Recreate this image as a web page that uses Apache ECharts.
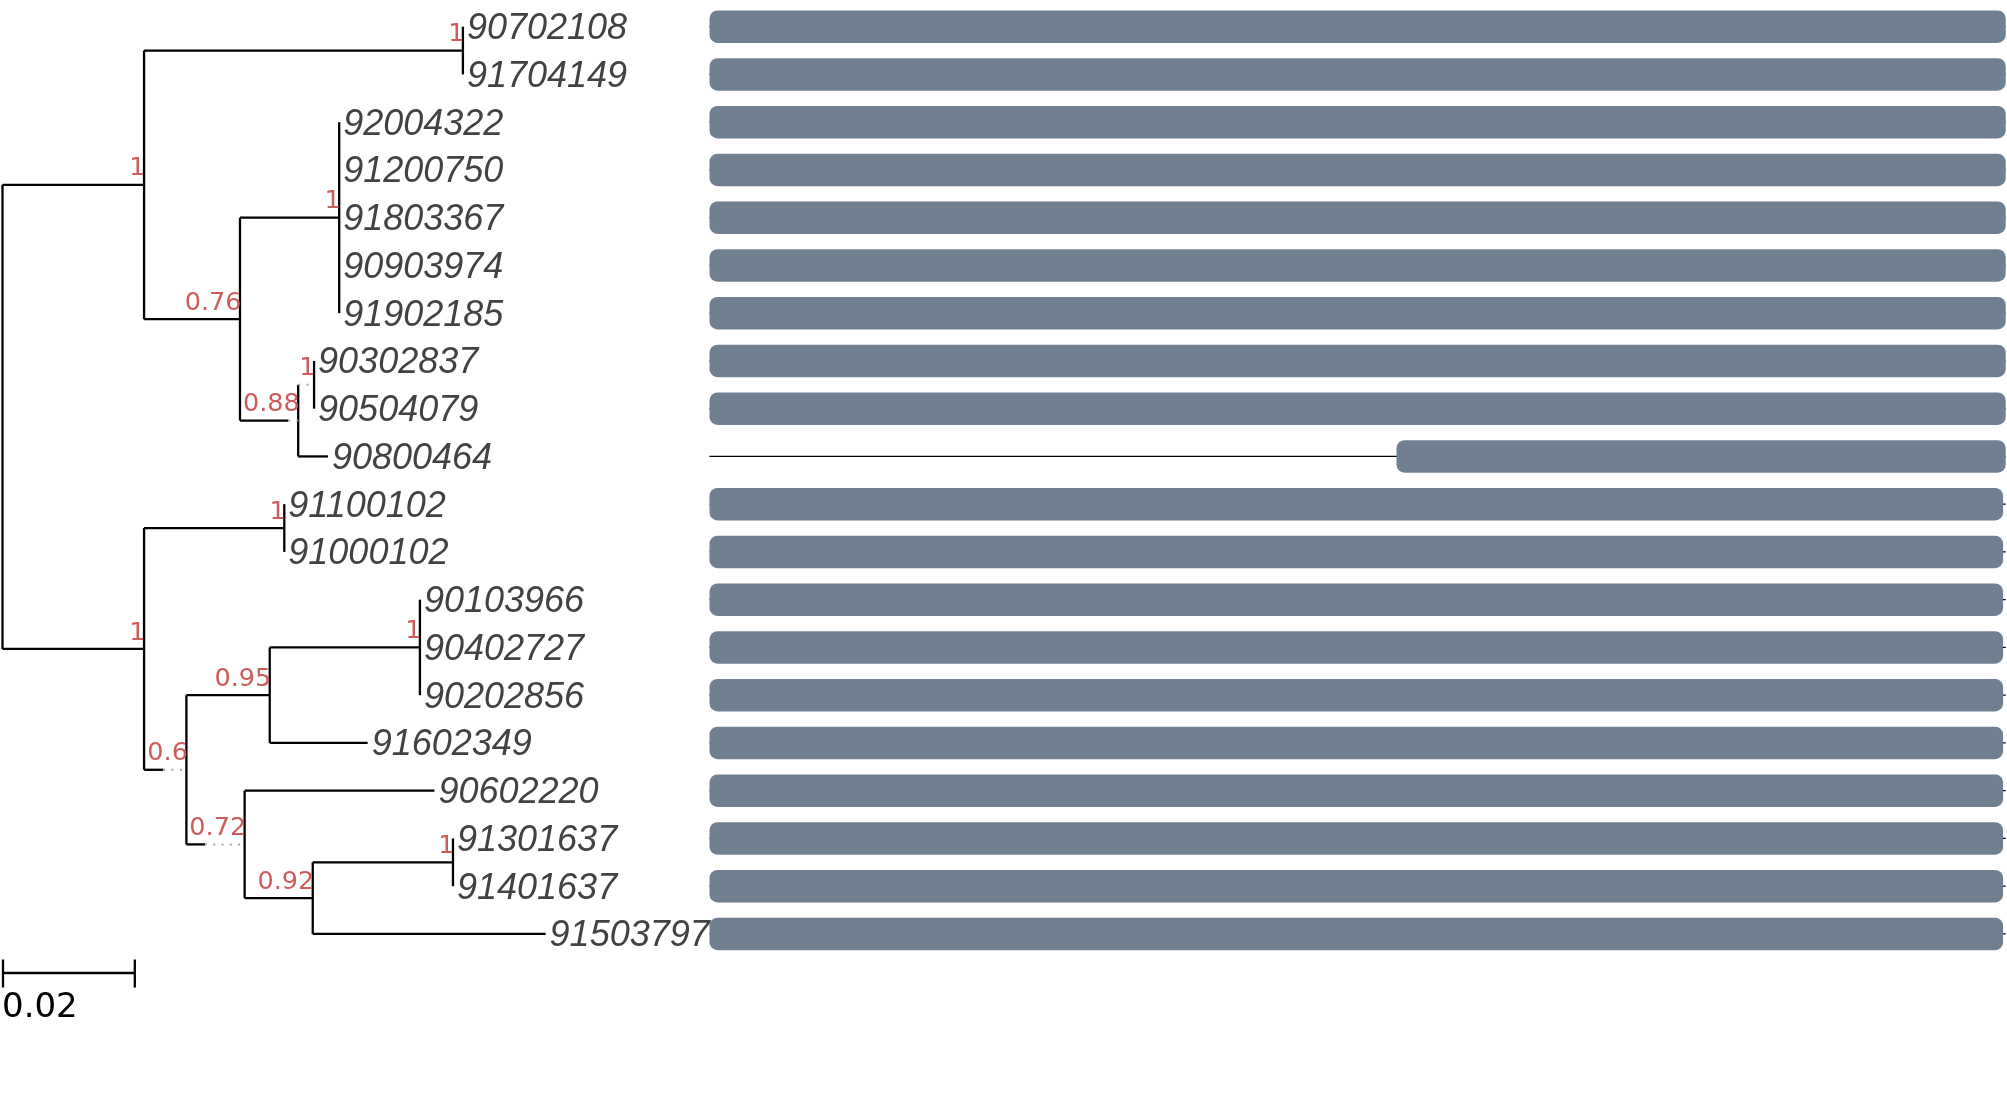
<!DOCTYPE html>
<html>
<head>
<meta charset="utf-8">
<script src="https://cdn.jsdelivr.net/npm/echarts@6/dist/echarts.min.js"></script>
<style>
html,body{margin:0;padding:0;background:#ffffff;}
#chart{width:2007px;height:1093px;}
</style>
</head>
<body>
<div id="chart"></div>
<script>
// ---------------- data ----------------
const tipNames = ['90702108','91704149','92004322','91200750','91803367','90903974','91902185','90302837','90504079','90800464',
                  '91100102','91000102','90103966','90402727','90202856','91602349','90602220','91301637','91401637','91503797'];
const tipParents = ['A1','A1','A2a','A2a','A2a','A2a','A2a','A2b1','A2b1','A2b',
                    'B1','B1','B2a1','B2a1','B2a1','B2a','B2b','B2b2a','B2b2a','B2b2'];
const tipBranchLengths = [0,0,0,0,0,0,0,0,0,0.0045,
                          0,0,0,0,0,0.0148,0.0287,0,0,0.0352];

const nodeNames         = ['root','A','A1','A2','A2a','A2b','A2b1','B','B1','B2','B2a','B2a1','B2b','B2b2','B2b2a'];
const nodeParents       = [null,'root','A','A','A2','A2','A2b','root','B','B','B2','B2a','B2','B2b','B2b2'];
const nodeBranchLengths = [0,0.0214,0.0482,0.0145,0.0150,0.0088,0.0024,0.0214,0.0212,0.0064,0.0126,0.0227,0.0088,0.0103,0.0212];
const nodeSupport       = ['','1','1','0.76','1','0.88','1','1','1','0.6','0.95','1','0.72','0.92','1'];

// branches drawn partly dotted: node and depth where the dotted part begins
const dottedNodes = ['A2b','A2b1','B2','B2b'];
const dottedFrom  = [0.0432,0.0447,0.0243,0.0306];

const scaleBarLength = 0.02;
const scaleBarLabel = '0.02';

// alignment coverage per tip (positions out of seqLength)
const seqLength = 1000;
const barStarts = [0,0,0,0,0,0,0,0,0,530, 0,0,0,0,0,0,0,0,0,0];
const barEnds   = [1000,1000,1000,1000,1000,1000,1000,1000,1000,1000, 998,998,998,998,998,998,998,998,998,998];

// ---------------- tree layout (depth / row) ----------------
const depth = {}, ypos = {}, children = {};
nodeNames.forEach((n, i) => {
  const p = nodeParents[i];
  depth[n] = p === null ? 0 : depth[p] + nodeBranchLengths[i];
  children[n] = [];
});
nodeNames.forEach((n, i) => { if (nodeParents[i]) children[nodeParents[i]].push({ node: n }); });
tipNames.forEach((t, i) => children[tipParents[i]].push({ tip: i }));
const tipDepth = tipNames.map((t, i) => depth[tipParents[i]] + tipBranchLengths[i]);
const childY = c => (c.tip !== undefined ? c.tip : ypos[c.node]);
for (let i = nodeNames.length - 1; i >= 0; i--) {
  const n = nodeNames[i];
  const ys = children[n].map(childY);
  ypos[n] = ys.reduce((a, b) => a + b, 0) / ys.length;
}

// segments: [x1, y1, x2, y2, dotted]
const segments = [];
function addHoriz(x0, x1, y, name) {
  if (x1 - x0 <= 0) return;
  const di = dottedNodes.indexOf(name);
  if (di >= 0) {
    const f = Math.max(x0, dottedFrom[di]);
    if (f > x0) segments.push([x0, y, f, y, 0]);
    segments.push([f, y, x1, y, 1]);
  } else {
    segments.push([x0, y, x1, y, 0]);
  }
}
nodeNames.forEach((n, i) => {
  const ys = children[n].map(childY);
  segments.push([depth[n], Math.min(...ys), depth[n], Math.max(...ys), 0]);
  if (nodeParents[i]) addHoriz(depth[nodeParents[i]], depth[n], ypos[n], n);
});
tipNames.forEach((t, i) => addHoriz(depth[tipParents[i]], tipDepth[i], i, t));

const tipLabelData = tipNames.map((t, i) => [tipDepth[i], i, t]);
const supportData = [];
nodeNames.forEach((n, i) => { if (nodeSupport[i] !== '') supportData.push([depth[n], ypos[n], nodeSupport[i]]); });
const backboneData = tipNames.map((t, i) => [0, seqLength, i]);
const barData = tipNames.map((t, i) => [barStarts[i], barEnds[i], i]);

// ---------------- chart ----------------
const chart = echarts.init(document.getElementById('chart'), null, { renderer: 'canvas' });
const ROWS = tipNames.length;
const yAxisBase = { type: 'value', min: -0.5, max: ROWS - 0.5, inverse: true, show: false };

chart.setOption({
  animation: false,
  backgroundColor: '#ffffff',
  grid: [
    { left: 2.5, top: 2.8, width: 661.5, height: 955 },
    { left: 709.5, top: 2.8, width: 1296.2, height: 955 }
  ],
  xAxis: [
    { type: 'value', min: 0, max: 0.1, show: false, gridIndex: 0 },
    { type: 'value', min: 0, max: seqLength, show: false, gridIndex: 1 }
  ],
  yAxis: [
    Object.assign({ gridIndex: 0 }, yAxisBase),
    Object.assign({ gridIndex: 1 }, yAxisBase)
  ],
  series: [
    {
      type: 'custom', name: 'branches', xAxisIndex: 0, yAxisIndex: 0, clip: false, silent: true,
      encode: { x: [0, 2], y: [1, 3] },
      data: segments,
      renderItem: function (params, api) {
        const p1 = api.coord([api.value(0), api.value(1)]);
        const p2 = api.coord([api.value(2), api.value(3)]);
        const dotted = api.value(4) === 1;
        return {
          type: 'line',
          shape: { x1: p1[0], y1: p1[1], x2: p2[0], y2: p2[1] },
          style: dotted
            ? { stroke: '#a6a6a6', lineWidth: 2, lineDash: [2, 6.3] }
            : { stroke: '#000000', lineWidth: 2.3 }
        };
      }
    },
    {
      type: 'custom', name: 'support', xAxisIndex: 0, yAxisIndex: 0, clip: false, silent: true,
      encode: { x: 0, y: 1 },
      data: supportData,
      renderItem: function (params, api) {
        const p = api.coord([api.value(0), api.value(1)]);
        return {
          type: 'text',
          style: {
            text: supportData[params.dataIndex][2],
            x: p[0] + 1.5, y: p[1] - 16,
            align: 'right', verticalAlign: 'middle',
            fontFamily: 'DejaVu Sans', fontSize: 25.5, fill: '#cd5c5c'
          }
        };
      }
    },
    {
      type: 'custom', name: 'tips', xAxisIndex: 0, yAxisIndex: 0, clip: false, silent: true,
      encode: { x: 0, y: 1 },
      data: tipLabelData,
      renderItem: function (params, api) {
        const p = api.coord([api.value(0), api.value(1)]);
        return {
          type: 'text',
          style: {
            text: tipLabelData[params.dataIndex][2],
            x: p[0] + 4, y: p[1] + 2.5,
            align: 'left', verticalAlign: 'middle',
            fontFamily: 'Liberation Sans', fontStyle: 'italic', fontSize: 36, fill: '#424242'
          }
        };
      }
    },
    {
      type: 'custom', name: 'scalebar', xAxisIndex: 0, yAxisIndex: 0, clip: false, silent: true,
      encode: { x: [0, 1] },
      data: [[0, scaleBarLength]],
      renderItem: function (params, api) {
        const a = api.coord([api.value(0), ROWS - 0.5]);
        const b = api.coord([api.value(1), ROWS - 0.5]);
        const y = a[1] + 15.2;
        return {
          type: 'group',
          children: [
            { type: 'line', shape: { x1: a[0], y1: y, x2: b[0], y2: y }, style: { stroke: '#000', lineWidth: 2.3 } },
            { type: 'line', shape: { x1: a[0] + 0.5, y1: y - 13.5, x2: a[0] + 0.5, y2: y + 14.5 }, style: { stroke: '#000', lineWidth: 2.3 } },
            { type: 'line', shape: { x1: b[0], y1: y - 13.5, x2: b[0], y2: y + 14.5 }, style: { stroke: '#000', lineWidth: 2.3 } },
            { type: 'text', style: { text: scaleBarLabel, x: a[0] - 0.5, y: y + 35.5, align: 'left', verticalAlign: 'middle',
                fontFamily: 'DejaVu Sans', fontSize: 34, fill: '#000' } }
          ]
        };
      }
    },
    {
      type: 'custom', name: 'backbone', xAxisIndex: 1, yAxisIndex: 1, clip: false, silent: true,
      encode: { x: [0, 1], y: 2 },
      data: backboneData,
      renderItem: function (params, api) {
        const p1 = api.coord([api.value(0), api.value(2)]);
        const p2 = api.coord([api.value(1), api.value(2)]);
        return { type: 'line', shape: { x1: p1[0], y1: p1[1], x2: p2[0], y2: p2[1] }, style: { stroke: '#000', lineWidth: 1.3 } };
      }
    },
    {
      type: 'custom', name: 'coverage', xAxisIndex: 1, yAxisIndex: 1, clip: false, silent: true,
      encode: { x: [0, 1], y: 2 },
      data: barData,
      renderItem: function (params, api) {
        const p1 = api.coord([api.value(0), api.value(2)]);
        const p2 = api.coord([api.value(1), api.value(2)]);
        const h = api.size([0, 0.68])[1];
        return {
          type: 'rect',
          shape: { x: p1[0], y: p1[1] - h / 2, width: p2[0] - p1[0], height: h, r: 8 },
          style: { fill: '#708090' }
        };
      }
    }
  ]
});
</script>
</body>
</html>
